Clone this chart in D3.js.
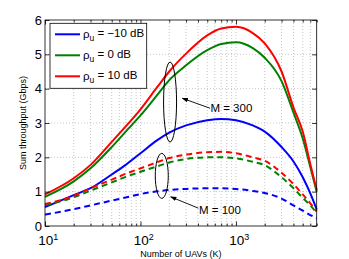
<!DOCTYPE html>
<html>
<head>
<meta charset="utf-8">
<script src="https://cdn.jsdelivr.net/npm/d3@7"></script>
<style>
  body { margin: 0; background: #fff; }
  text { font-family: "Liberation Sans", Arial, Helvetica, sans-serif; fill: #000; }
</style>
</head>
<body>
<div class="chart"></div>
<script>
// Data
//= ================================
var uavs = [10, 20, 30, 50, 70, 100, 150, 200, 300, 500, 700, 1000, 1500, 2000, 3000, 4000, 5000, 6000, 7000];

// M = 300 (solid)
var m300Low  = [0.55, 0.9, 1.1, 1.5, 1.78, 2.12, 2.5, 2.72, 2.93, 3.08, 3.12, 3.08, 2.93, 2.75, 2.3, 1.88, 1.42, 0.95, 0.48];
var m300Mid  = [0.85, 1.3, 1.68, 2.3, 2.75, 3.22, 3.82, 4.25, 4.68, 5.12, 5.3, 5.35, 5.18, 4.9, 4.22, 3.3, 2.55, 1.72, 1.0];
var m300High = [0.92, 1.39, 1.78, 2.45, 2.9, 3.4, 4.05, 4.5, 5.02, 5.55, 5.75, 5.8, 5.62, 5.32, 4.5, 3.45, 2.75, 1.8, 1.05];

// M = 100 (dashed)
var m100Low  = [0.33, 0.49, 0.6, 0.74, 0.83, 0.93, 1.01, 1.05, 1.08, 1.1, 1.1, 1.08, 1.02, 0.96, 0.8, 0.6, 0.45, 0.32, 0.22];
var m100Mid  = [0.6, 0.84, 1.03, 1.27, 1.43, 1.58, 1.74, 1.85, 1.95, 2.0, 2.0, 1.97, 1.87, 1.77, 1.42, 1.1, 0.82, 0.6, 0.38];
var m100High = [0.64, 0.88, 1.1, 1.35, 1.52, 1.68, 1.86, 1.98, 2.08, 2.15, 2.16, 2.12, 2.0, 1.9, 1.55, 1.22, 0.92, 0.66, 0.42];

var snrLabels = ["\u221210", "0", "10"];
var seriesColors = ["#0000ff", "#008000", "#ff0000"];

var yTicks = [0, 1, 2, 3, 4, 5, 6];
var xMajor = [10, 100, 1000];
var xMinor = [20, 30, 40, 50, 60, 70, 80, 90, 200, 300, 400, 500, 600, 700, 800, 900, 2000, 3000, 4000, 5000, 6000, 7000];

// annotation anchors, in data units [K, throughput]
var ring300 = [204, 3.61];
var ring100 = [167, 1.46];
var arrow300 = [[535, 3.43], [274, 3.72]];
var arrow100 = [[403, 0.52], [207, 0.85]];
var label300 = ["M = 300", 540, 3.43];
var label100 = ["M = 100", 410, 0.47];

// Step 0: Set up our chart
//= ================================
var svgWidth = 349;
var svgHeight = 259;
var margin = { top: 20, right: 32.3, bottom: 33, left: 45 };
var width = svgWidth - margin.left - margin.right;
var height = svgHeight - margin.top - margin.bottom;

var svg = d3.select(".chart").append("svg")
  .attr("width", svgWidth)
  .attr("height", svgHeight)
  .style("display", "block");

var chart = svg.append("g")
  .attr("transform", "translate(" + margin.left + "," + margin.top + ")");

var x = d3.scaleLog().domain([10, 7000]).range([0, width]);
var y = d3.scaleLinear().domain([0, 6]).range([height, 0]);

// grid (dotted, matlab style)
chart.append("g").selectAll("line")
  .data(xMajor.concat(xMinor).filter(function(d) { return d > 10 && d < 7000; }))
  .enter().append("line")
  .attr("x1", function(d) { return x(d); })
  .attr("x2", function(d) { return x(d); })
  .attr("y1", 0).attr("y2", height)
  .attr("stroke", "#b8b8b8").attr("stroke-width", 0.8)
  .attr("stroke-dasharray", "1,2");

chart.append("g").selectAll("line")
  .data(yTicks.filter(function(d) { return d > 0 && d < 6; }))
  .enter().append("line")
  .attr("x1", 0).attr("x2", width)
  .attr("y1", function(d) { return y(d); })
  .attr("y2", function(d) { return y(d); })
  .attr("stroke", "#b8b8b8").attr("stroke-width", 0.8)
  .attr("stroke-dasharray", "1,2");

// curves
var series = [
  { values: m300Low, color: seriesColors[0], dash: null },
  { values: m300Mid, color: seriesColors[1], dash: null },
  { values: m300High, color: seriesColors[2], dash: null },
  { values: m100Low, color: seriesColors[0], dash: "6,4" },
  { values: m100Mid, color: seriesColors[1], dash: "6,4" },
  { values: m100High, color: seriesColors[2], dash: "6,4" }
];

var line = d3.line()
  .x(function(d, i) { return x(uavs[i]); })
  .y(function(d) { return y(d); })
  .curve(d3.curveMonotoneX);

chart.append("g").selectAll("path")
  .data(series)
  .enter().append("path")
  .attr("d", function(s) { return line(s.values); })
  .attr("fill", "none")
  .attr("stroke", function(s) { return s.color; })
  .attr("stroke-width", 2)
  .attr("stroke-dasharray", function(s) { return s.dash; });

// axes with inward ticks on all four sides
function styleAxis(g) {
  g.select(".domain").remove();
  g.selectAll(".tick line").attr("stroke", "#000").attr("stroke-width", 0.8);
}

chart.append("g").attr("transform", "translate(0," + height + ")")
  .call(d3.axisBottom(x).tickValues(xMinor).tickSizeInner(-2.5).tickSizeOuter(0).tickFormat(""))
  .call(styleAxis);
chart.append("g")
  .call(d3.axisTop(x).tickValues(xMinor).tickSizeInner(-2.5).tickSizeOuter(0).tickFormat(""))
  .call(styleAxis);
chart.append("g")
  .call(d3.axisTop(x).tickValues(xMajor).tickSizeInner(-4.5).tickSizeOuter(0).tickFormat(""))
  .call(styleAxis);

var bottomAxis = chart.append("g").attr("transform", "translate(0," + height + ")")
  .call(d3.axisBottom(x).tickValues(xMajor).tickSizeInner(-4.5).tickSizeOuter(0).tickPadding(9.8))
  .call(styleAxis);

bottomAxis.selectAll(".tick text").each(function(d) {
  var t = d3.select(this).text("").attr("font-size", 13.5).attr("fill", "#000");
  t.append("tspan").text("10");
  t.append("tspan").attr("dy", "-0.55em").attr("font-size", 9).text(Math.round(Math.log10(d)));
});
bottomAxis.selectAll(".tick text").attr("dx", "0.2em");

chart.append("g")
  .call(d3.axisLeft(y).tickValues(yTicks).tickFormat(d3.format("d"))
    .tickSizeInner(-4.5).tickSizeOuter(0).tickPadding(3))
  .call(styleAxis)
  .selectAll(".tick text").attr("font-size", 13).attr("fill", "#000");

chart.append("g").attr("transform", "translate(" + width + ",0)")
  .call(d3.axisRight(y).tickValues(yTicks).tickSizeInner(-4.5).tickSizeOuter(0).tickFormat(""))
  .call(styleAxis);

// box
chart.append("rect")
  .attr("width", width).attr("height", height)
  .attr("fill", "none").attr("stroke", "#000").attr("stroke-width", 0.8);

// annotations
var arrowDefs = svg.append("defs").append("marker")
  .attr("id", "head").attr("viewBox", "0 0 10 10")
  .attr("refX", 9).attr("refY", 5)
  .attr("markerWidth", 7).attr("markerHeight", 7)
  .attr("orient", "auto");
arrowDefs.append("path").attr("d", "M0,1.5 L10,5 L0,8.5 Z").attr("fill", "#000");

[[ring300, 6.5, 40], [ring100, 6.5, 22.5]].forEach(function(r) {
  chart.append("ellipse")
    .attr("cx", x(r[0][0])).attr("cy", y(r[0][1]))
    .attr("rx", r[1]).attr("ry", r[2])
    .attr("fill", "none").attr("stroke", "#000").attr("stroke-width", 1);
});

[arrow300, arrow100].forEach(function(a) {
  chart.append("line")
    .attr("x1", x(a[0][0])).attr("y1", y(a[0][1]))
    .attr("x2", x(a[1][0])).attr("y2", y(a[1][1]))
    .attr("stroke", "#000").attr("stroke-width", 0.9)
    .attr("marker-end", "url(#head)");
});

[label300, label100].forEach(function(l) {
  chart.append("text")
    .attr("x", x(l[1])).attr("y", y(l[2]))
    .attr("dy", "0.35em")
    .attr("font-size", 11.5)
    .text(l[0]);
});

// legend
var legend = chart.append("g").attr("transform", "translate(5,3.3)");
legend.append("rect")
  .attr("width", 96.7).attr("height", 65)
  .attr("fill", "#fff").attr("stroke", "#000").attr("stroke-width", 0.8);

var legendRows = legend.selectAll("g.row")
  .data(snrLabels)
  .enter().append("g")
  .attr("class", "row")
  .attr("transform", function(d, i) { return "translate(0," + (11 + i * 21) + ")"; });

legendRows.append("line")
  .attr("x1", 5).attr("x2", 30)
  .attr("stroke", function(d, i) { return seriesColors[i]; })
  .attr("stroke-width", 2);

var lt = legendRows.append("text")
  .attr("x", 33).attr("dy", "0.35em")
  .attr("font-size", 11.5);
lt.append("tspan").text("\u03c1");
lt.append("tspan").attr("dy", "0.3em").attr("font-size", 8.5).text("u");
lt.append("tspan").attr("dy", "-0.3em").text(function(d) { return " = " + d + " dB"; });

// axis titles
chart.append("text")
  .attr("transform", "translate(" + (width / 2) + "," + (height + 30.5) + ")")
  .attr("text-anchor", "middle")
  .attr("font-size", 9)
  .text("Number of UAVs (K)");

chart.append("text")
  .attr("transform", "translate(-19," + (height / 2) + ") rotate(-90)")
  .attr("text-anchor", "middle")
  .attr("font-size", 9)
  .text("Sum throughput (Gbps)");
</script>
</body>
</html>
